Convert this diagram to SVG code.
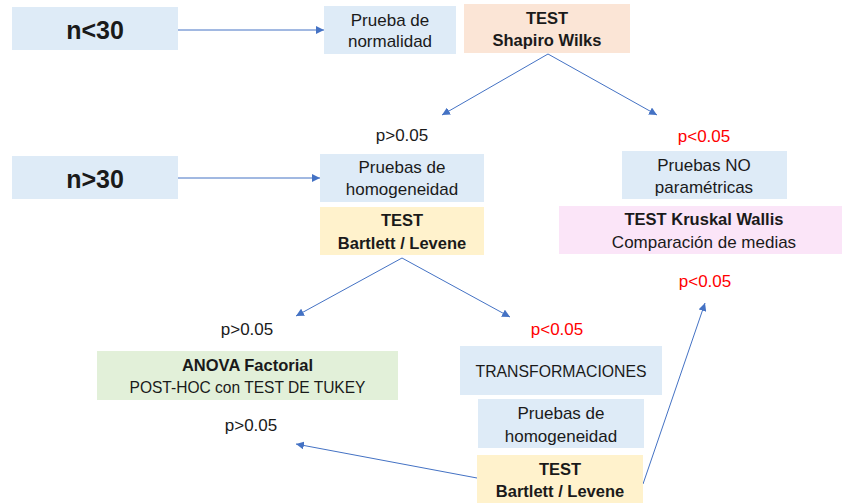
<svg xmlns="http://www.w3.org/2000/svg" width="842" height="503" viewBox="0 0 842 503">
<defs>
<style>
text{font-family:"Liberation Sans",Arial,sans-serif;fill:#1a1a1a;text-anchor:middle}
.r{font-size:17px}
.b{font-size:16.5px;font-weight:bold}
.big{font-size:25px;font-weight:bold}
.red{fill:#ff0000}
.blue{fill:#deebf7}
.peach{fill:#fbe5d6}
.yel{fill:#fff2cc}
.pink{fill:#fbe5f8}
.green{fill:#e2f0d9}
.c{stroke:#4472c4;stroke-width:1;fill:none;marker-end:url(#ah)}
</style>
<marker id="ah" markerUnits="userSpaceOnUse" markerWidth="9" markerHeight="8" refX="8" refY="4" orient="auto">
<path d="M0,0 L8,4 L0,8 Z" fill="#4472c4"/>
</marker>
</defs>
<rect width="842" height="503" fill="#ffffff"/>
<g id="connectors">
<line class="c" x1="178" y1="30" x2="324" y2="30"/>
<line class="c" x1="178" y1="178" x2="320" y2="178"/>
<line class="c" x1="548" y1="54" x2="442" y2="115"/>
<line class="c" x1="548" y1="54" x2="657" y2="115"/>
<line class="c" x1="402" y1="258" x2="296" y2="316"/>
<line class="c" x1="402" y1="258" x2="510" y2="317"/>
<line class="c" x1="477" y1="478" x2="296" y2="444"/>
<line class="c" x1="643" y1="484" x2="705" y2="303"/>
</g>
<g id="n-lt-30"><rect class="blue" x="12" y="7" width="166" height="43"/><text class="big" x="95" y="39">n&lt;30</text></g>
<g id="prueba-normalidad"><rect class="blue" x="324" y="6" width="132" height="48"/><text class="r" x="390" y="26">Prueba de</text><text class="r" x="390" y="47">normalidad</text></g>
<g id="shapiro"><rect class="peach" x="464" y="4" width="166" height="49"/><text class="b" x="547" y="24">TEST</text><text class="b" x="547" y="46">Shapiro Wilks</text></g>
<g id="p1"><text class="r" x="402" y="141">p&gt;0.05</text></g>
<g id="p2"><text class="r red" x="704" y="142">p&lt;0.05</text></g>
<g id="n-gt-30"><rect class="blue" x="12" y="156" width="166" height="43"/><text class="big" x="95" y="188">n&gt;30</text></g>
<g id="homog1"><rect class="blue" x="320" y="154" width="164" height="48"/><text class="r" x="402" y="173">Pruebas de</text><text class="r" x="402" y="195">homogeneidad</text></g>
<g id="bartlett1"><rect class="yel" x="320" y="207" width="164" height="48"/><text class="b" x="402" y="226">TEST</text><text class="b" x="402" y="249">Bartlett / Levene</text></g>
<g id="noparam"><rect class="blue" x="622" y="151" width="165" height="48"/><text class="r" x="704" y="171">Pruebas NO</text><text class="r" x="704" y="193">paramétricas</text></g>
<g id="kruskal"><rect class="pink" x="559" y="206" width="283" height="48"/><text class="b" x="704" y="225">TEST Kruskal Wallis</text><text class="r" x="704" y="248">Comparación de medias</text></g>
<g id="p3"><text class="r red" x="705" y="287">p&lt;0.05</text></g>
<g id="p4"><text class="r" x="247" y="335">p&gt;0.05</text></g>
<g id="p5"><text class="r red" x="557" y="335">p&lt;0.05</text></g>
<g id="anova"><rect class="green" x="97" y="351" width="301" height="49"/><text class="b" x="247.5" y="371">ANOVA Factorial</text><text class="r" x="247.5" y="393" textLength="236" lengthAdjust="spacingAndGlyphs">POST-HOC con TEST DE TUKEY</text></g>
<g id="transf"><rect class="blue" x="460" y="346" width="202" height="49"/><text class="r" x="561" y="377" textLength="171" lengthAdjust="spacingAndGlyphs">TRANSFORMACIONES</text></g>
<g id="homog2"><rect class="blue" x="478" y="399" width="166" height="49"/><text class="r" x="561" y="419">Pruebas de</text><text class="r" x="561" y="442">homogeneidad</text></g>
<g id="bartlett2"><rect class="yel" x="477" y="455" width="166" height="48"/><text class="b" x="560" y="475">TEST</text><text class="b" x="560" y="497">Bartlett / Levene</text></g>
<g id="p6"><text class="r" x="251" y="431">p&gt;0.05</text></g>
</svg>
